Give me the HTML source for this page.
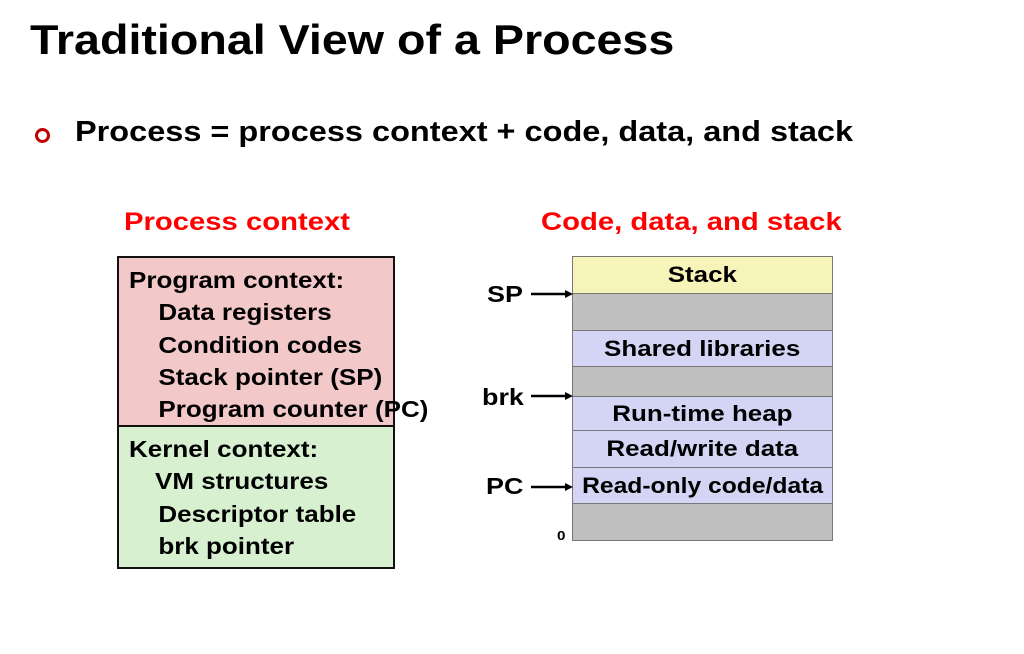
<!DOCTYPE html>
<html><head><style>
body{margin:0;width:1024px;height:654px;background:#fff;font-family:"Liberation Sans",sans-serif;position:relative;overflow:hidden}
.a{position:absolute;white-space:nowrap;font-weight:bold;transform:scaleX(1.17);transform-origin:0 0}
.r{position:absolute;left:572px;width:261px;border:1px solid #777;box-sizing:border-box;text-align:center;font-weight:bold;font-size:22px;color:#000}
.r span{display:inline-block;transform:scaleX(1.18);white-space:nowrap}
.g{background:#c0c0c0}.b{background:#d4d4f4}
</style></head><body>
<div class="a" style="left:30px;top:16px;font-size:42px;transform:scaleX(1.11)">Traditional View of a Process</div>
<div style="position:absolute;left:35px;top:128px;width:9px;height:9px;border:3px solid #c00000;border-radius:50%"></div>
<div class="a" style="left:75px;top:116px;font-size:29px;transform:scaleX(1.12)">Process = process context + code, data, and stack</div>
<div class="a" style="left:124px;top:208px;font-size:25px;color:#ff0000">Process context</div>
<div class="a" style="left:541px;top:208px;font-size:25px;color:#ff0000">Code, data, and stack</div>

<div style="position:absolute;left:117px;top:256px;width:278px;height:171px;background:#f2c8c8;border:2px solid #111;box-sizing:border-box"></div>
<div style="position:absolute;left:117px;top:425px;width:278px;height:144px;background:#d6f0d0;border:2px solid #111;box-sizing:border-box"></div>
<div class="a" style="left:129px;top:264px;font-size:23px;line-height:32.3px;transform:scaleX(1.13)">Program context:<br><span style="padding-left:26px">Data registers</span><br><span style="padding-left:26px">Condition codes</span><br><span style="padding-left:26px">Stack pointer (SP)</span><br><span style="padding-left:26px">Program counter (PC)</span></div>
<div class="a" style="left:129px;top:433px;font-size:23px;line-height:32.3px;transform:scaleX(1.13)">Kernel context:<br><span style="padding-left:23px">VM structures</span><br><span style="padding-left:26px">Descriptor table</span><br><span style="padding-left:26px">brk pointer</span></div>

<div class="r" style="top:256px;height:38px;background:#f6f4b8;line-height:36px"><span>Stack</span></div>
<div class="r g" style="top:293px;height:38px"></div>
<div class="r b" style="top:330px;height:37px;line-height:35px"><span>Shared libraries</span></div>
<div class="r g" style="top:366px;height:31px"></div>
<div class="r b" style="top:396px;height:35px;line-height:33px"><span>Run-time heap</span></div>
<div class="r b" style="top:430px;height:38px;line-height:36px"><span>Read/write data</span></div>
<div class="r b" style="top:467px;height:37px;line-height:35px"><span style="transform:scaleX(1.12)">Read-only code/data</span></div>
<div class="r g" style="top:503px;height:38px"></div>

<div class="a" style="left:487px;top:281px;font-size:23px">SP</div>
<div class="a" style="left:482px;top:384px;font-size:23px">brk</div>
<div class="a" style="left:486px;top:473px;font-size:23px">PC</div>
<div class="a" style="left:557px;top:528px;font-size:13px">0</div>
<svg style="position:absolute;left:0;top:0" width="1024" height="654">
<g stroke="#000" stroke-width="2.5"><line x1="531" y1="294" x2="566" y2="294"/><line x1="531" y1="396" x2="566" y2="396"/><line x1="531" y1="487" x2="566" y2="487"/></g>
<g fill="#000"><path d="M573 294l-8-4v8z"/><path d="M573 396l-8-4v8z"/><path d="M573 487l-8-4v8z"/></g>
</svg>
</body></html>
